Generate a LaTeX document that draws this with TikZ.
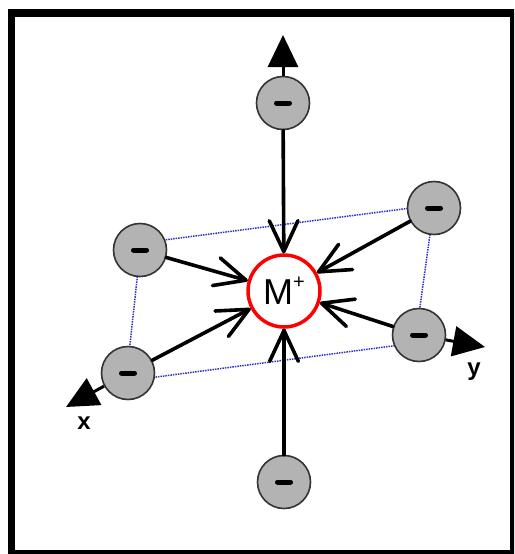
\documentclass[tikz,border=0pt]{standalone}
\usepackage{fontspec}
\setmainfont{Liberation Sans}
\usetikzlibrary{arrows.meta,backgrounds,calc}
\definecolor{iongray}{RGB}{179,179,179}
\definecolor{planeblue}{RGB}{50,50,200}
\definecolor{metalred}{RGB}{255,0,0}
\begin{document}
\begin{tikzpicture}[x=1pt,y=-1pt,
  ion/.style={circle, draw=black!80, line width=1.6pt, fill=iongray, minimum size=53pt, inner sep=0pt},
  metal/.style={circle, draw=metalred, line width=3.5pt, fill=white, minimum size=72pt, inner sep=0pt, font=\fontsize{36}{40}\selectfont},
  bond/.style={line width=3.6pt, line cap=round, line join=round},
  axisarrow/.style={line width=3pt, -{Triangle[length=32pt,width=30pt]}},
  frame/.style={line width=7.5pt},
  plane/.style={line width=1.5pt, draw=planeblue, dash pattern=on 1.5pt off 1pt},
  minusbar/.style={line width=5pt, line cap=round},
  axislabel/.style={font=\bfseries\fontsize{24}{28}\selectfont, inner sep=0pt}
]
\useasboundingbox (0,0) rectangle (514,554);
\clip (0,0) rectangle (514,554);
\draw[frame] (11.5,13) rectangle (513.5,553.5);

\node[ion] (t) at (283,103) {};
\node[ion] (b) at (284,482) {};
\node[ion] (ul) at (140,250) {};
\node[ion] (ur) at (434,208) {};
\node[ion] (ll) at (128,373) {};
\node[ion] (lr) at (419,335) {};
\node[metal] (m) at (284,291) {M\raisebox{16pt}{\fontsize{20}{20}\selectfont +}};

\coordinate (A) at (141,243);
\coordinate (B) at (434,205);
\coordinate (C) at (415,343);
\coordinate (D) at (126,381);
\begin{pgfonlayer}{background}
\draw[plane] (A) -- (B) -- (C) -- (D) -- cycle;
\end{pgfonlayer}

\foreach \n in {t,b,ul,ur,ll,lr}{
  \coordinate (tip-\n) at ($(m.center)!39.5pt!(\n.center)$);
  \draw[bond] (\n) -- (tip-\n);
  \draw[bond] ($(tip-\n)!34pt!25:(\n.center)$) -- (tip-\n) -- ($(tip-\n)!34pt!-25:(\n.center)$);
}

\coordinate (zt) at (283,35);
\coordinate (xt) at (66,407);
\coordinate (yt) at (485,347);
\draw[axisarrow] (t) -- (zt);
\draw[axisarrow] (ll) -- (xt);
\draw[axisarrow] (lr) -- (yt);

\foreach \n in {t,b,ul,ur,ll,lr}
  \draw[minusbar] ([xshift=-6.5pt]\n.center) -- ([xshift=6.5pt]\n.center);

\node[axislabel] (xl) at (84,423.5) {x};
\node[axislabel] (yl) at (474,372) {y};
\end{tikzpicture}
\end{document}
